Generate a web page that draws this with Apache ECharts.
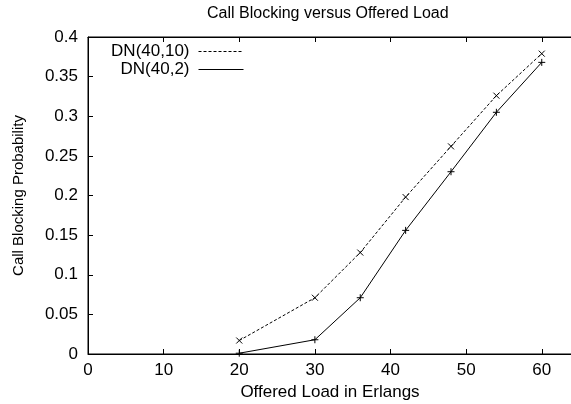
<!DOCTYPE html>
<html>
<head>
<meta charset="utf-8">
<script src="https://cdn.jsdelivr.net/npm/echarts@6/dist/echarts.min.js"></script>
<style>
  html, body { margin: 0; padding: 0; background: #fff; }
  #chart { width: 571px; height: 404px; }
</style>
</head>
<body>
<div id="chart"></div>
<script>
// offered load (Erlangs)
const loads = [20, 30, 36, 42, 48, 54, 60];
const dn40_10 = [0.017, 0.071, 0.128, 0.198, 0.262, 0.326, 0.379];
const dn40_2 = [0.001, 0.018, 0.071, 0.156, 0.230, 0.305, 0.368];
const xTicks = [0, 10, 20, 30, 40, 50, 60];
const yTicks = [0, 0.05, 0.1, 0.15, 0.2, 0.25, 0.3, 0.35, 0.4];

const font = 'Liberation Sans, Arial, sans-serif';
const crossX = 'path://M0,0L10,10M10,0L0,10';
const crossPlus = 'path://M5,0L5,10M0,5L10,5';

function pairs(ys) {
    return loads.map((x, i) => [x, ys[i]]);
}

function legendFor(name, top) {
    return {
        data: [name],
        right: 327,
        top: top,
        align: 'right',
        itemWidth: 45,
        itemHeight: 10,
        itemGap: 0,
        padding: 0,
        itemStyle: { opacity: 0 },
        lineStyle: { width: 1 },
        textStyle: { fontFamily: font, fontSize: 17, color: '#000', padding: [0, 4, 0, 0] }
    };
}

let option = {
    animation: false,
    backgroundColor: '#fff',
    title: {
        text: 'Call Blocking versus Offered Load',
        left: 207,
        top: 6,
        padding: 0,
        textStyle: { fontFamily: font, fontSize: 16, fontWeight: 'normal', color: '#000' }
    },
    legend: [legendFor('DN(40,10)', 43), legendFor('DN(40,2)', 61)],
    grid: {
        left: 88,
        top: 37,
        bottom: 50,
        right: -1,
        outerBoundsMode: 'none',
        show: true,
        borderColor: '#000',
        borderWidth: 1
    },
    xAxis: [{
        type: 'value',
        min: 0,
        max: 64,
        interval: 10,
        name: 'Offered Load in Erlangs',
        nameLocation: 'middle',
        nameGap: 26,
        nameTextStyle: { fontFamily: font, fontSize: 17, color: '#000' },
        axisLine: { lineStyle: { color: '#000' } },
        axisTick: { inside: true, length: 5, lineStyle: { color: '#000' } },
        axisLabel: {
            fontFamily: font, fontSize: 17, color: '#000', margin: 8,
            showMaxLabel: false,
            formatter: (v) => xTicks.includes(v) ? String(v) : ''
        },
        splitLine: { show: false }
    }, {
        type: 'value',
        position: 'top',
        min: 0,
        max: 64,
        interval: 10,
        axisLine: { lineStyle: { color: '#000' } },
        axisTick: { inside: true, length: 5, lineStyle: { color: '#000' } },
        axisLabel: { show: false },
        splitLine: { show: false }
    }],
    yAxis: {
        type: 'value',
        min: 0,
        max: 0.4,
        interval: 0.05,
        name: 'Call Blocking Probability',
        nameLocation: 'middle',
        nameGap: 62,
        nameTextStyle: { fontFamily: font, fontSize: 15, color: '#000' },
        axisLine: { lineStyle: { color: '#000' } },
        axisTick: { inside: true, length: 5, lineStyle: { color: '#000' } },
        axisLabel: {
            fontFamily: font, fontSize: 17, color: '#000', margin: 10,
            formatter: (v) => {
                let t = yTicks.find((y) => Math.abs(y - v) < 1e-9);
                return t === undefined ? '' : String(+t.toFixed(2));
            }
        },
        splitLine: { show: false }
    },
    series: [{
        name: 'DN(40,10)',
        type: 'line',
        data: pairs(dn40_10),
        symbol: crossX,
        symbolSize: 6,
        color: '#000',
        lineStyle: { color: '#000', width: 1, type: [3, 2] },
        itemStyle: { color: 'none', borderColor: '#000', borderWidth: 1 }
    }, {
        name: 'DN(40,2)',
        type: 'line',
        data: pairs(dn40_2),
        symbol: crossPlus,
        symbolSize: 7,
        color: '#000',
        lineStyle: { color: '#000', width: 1 },
        itemStyle: { color: 'none', borderColor: '#000', borderWidth: 1 }
    }]
};

let myChart = echarts.init(document.getElementById('chart'));
myChart.setOption(option);
</script>
</body>
</html>
